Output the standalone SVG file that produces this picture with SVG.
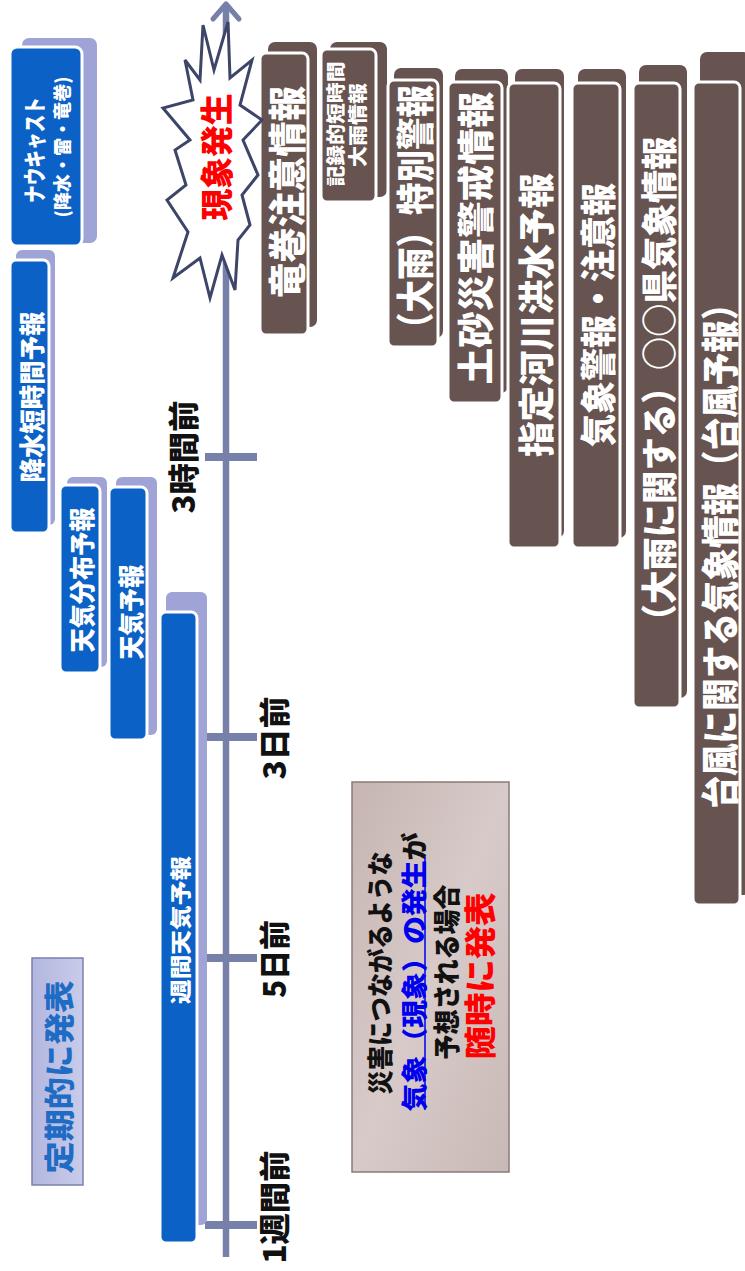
<svg xmlns="http://www.w3.org/2000/svg" width="745" height="1271" viewBox="0 0 745 1271">
<style>
text{font-family:"Noto Sans CJK JP","Noto Sans CJK SC",sans-serif;font-weight:900;text-anchor:middle;dominant-baseline:central}
.b{fill:#0b61c6;stroke:#fff;stroke-width:3}
.bs{fill:#9fa3d6}
.r{fill:#67534f;stroke:#fff;stroke-width:3}
.rs{fill:#67534f}
.w{fill:#fff}
.k{fill:#111}
.ax{stroke:#7680a8;fill:none}
</style>
<defs>
<linearGradient id="gBox" x1="0" y1="0" x2="1" y2="1">
<stop offset="0" stop-color="#c6b5b2"/>
<stop offset="0.5" stop-color="#d7cac8"/>
<stop offset="1" stop-color="#c9b9b6"/>
</linearGradient>
<linearGradient id="gLav" x1="0" y1="0" x2="1" y2="0">
<stop offset="0" stop-color="#b3b7df"/>
<stop offset="1" stop-color="#c9cbea"/>
</linearGradient>
</defs>
<rect width="745" height="1271" fill="#fff"/>

<g id="timeline">
<line class="ax" x1="226" y1="1257" x2="226" y2="8" stroke-width="6.5"/>
<polyline class="ax" points="213,19 226,4 239,19" stroke-width="5" stroke-linejoin="round" stroke-linecap="round"/>
<line class="ax" x1="205" y1="457" x2="257" y2="457" stroke-width="8"/>
<line class="ax" x1="205" y1="737" x2="257" y2="737" stroke-width="8"/>
<line class="ax" x1="205" y1="958" x2="257" y2="958" stroke-width="8"/>
<line class="ax" x1="205" y1="1225" x2="257" y2="1225" stroke-width="8"/>
</g>

<g id="labels">
<text class="k" font-size="31" textLength="113" lengthAdjust="spacingAndGlyphs" transform="translate(181,457) rotate(-90)">3時間前</text>
<text class="k" font-size="31" textLength="83" lengthAdjust="spacingAndGlyphs" transform="translate(272,738) rotate(-90)">3日前</text>
<text class="k" font-size="31" textLength="78" lengthAdjust="spacingAndGlyphs" transform="translate(272,959) rotate(-90)">5日前</text>
<text class="k" font-size="31" textLength="113" lengthAdjust="spacingAndGlyphs" transform="translate(272,1207) rotate(-90)">1週間前</text>
</g>

<g id="teiki">
<rect x="32" y="958" width="51" height="227" fill="url(#gLav)" stroke="#7a80b0" stroke-width="1.5"/>
<text fill="#1e6cc4" font-size="30" textLength="193" lengthAdjust="spacingAndGlyphs" transform="translate(57,1077) rotate(-90)">定期的に発表</text>
</g>

<g id="nowcast">
<rect class="bs" x="22" y="38" width="75" height="205" rx="7"/>
<rect class="b" x="10" y="47" width="72" height="199" rx="7"/>
<text class="w" font-size="23" textLength="106" lengthAdjust="spacingAndGlyphs" transform="translate(33,150) rotate(-90)">ナウキャスト</text>
<text class="w" font-size="18" textLength="141" lengthAdjust="spacingAndGlyphs" transform="translate(61,147) rotate(-90)">(降水・雷・竜巻)</text>
</g>

<g id="kousui">
<rect class="bs" x="16" y="250" width="39" height="275" rx="6"/>
<rect class="b" x="10" y="260" width="39" height="273" rx="6"/>
<text class="w" font-size="26" textLength="171" lengthAdjust="spacingAndGlyphs" transform="translate(30,397) rotate(-90)">降水短時間予報</text>
</g>

<g id="bunpu">
<rect class="bs" x="67" y="477" width="40" height="190" rx="6"/>
<rect class="b" x="60" y="485" width="40" height="188" rx="6"/>
<text class="w" font-size="26" textLength="145" lengthAdjust="spacingAndGlyphs" transform="translate(80,580) rotate(-90)">天気分布予報</text>
</g>

<g id="tenki">
<rect class="bs" x="116" y="477" width="41" height="258" rx="6"/>
<rect class="b" x="109" y="487" width="38" height="253" rx="6"/>
<text class="w" font-size="26" textLength="95" lengthAdjust="spacingAndGlyphs" transform="translate(129,612) rotate(-90)">天気予報</text>
</g>

<g id="shukan">
<rect class="bs" x="166" y="592" width="41" height="633" rx="6"/>
<rect class="b" x="160" y="612" width="37" height="631" rx="6"/>
<text class="w" font-size="21" textLength="148" lengthAdjust="spacingAndGlyphs" transform="translate(179,930) rotate(-90)">週間天気予報</text>
</g>

<g id="tatsumaki">
<rect class="rs" x="268" y="42" width="49" height="285" rx="7"/>
<rect class="r" x="260" y="53" width="48" height="282" rx="6"/>
<text class="w" font-size="38" textLength="212" lengthAdjust="spacingAndGlyphs" transform="translate(284,192) rotate(-90)">竜巻注意情報</text>
</g>

<g id="kiroku">
<rect class="rs" x="330" y="42" width="57" height="155" rx="7"/>
<rect class="r" x="321" y="49" width="55" height="153" rx="6"/>
<text class="w" font-size="19" textLength="125" lengthAdjust="spacingAndGlyphs" transform="translate(334,124) rotate(-90)">記録的短時間</text>
<text class="w" font-size="19" textLength="84" lengthAdjust="spacingAndGlyphs" transform="translate(356,125) rotate(-90)">大雨情報</text>
</g>

<g id="tokubetsu">
<rect class="rs" x="394" y="68" width="49" height="270" rx="7"/>
<rect class="r" x="388" y="80" width="50" height="267" rx="6"/>
<text class="w" font-size="38" textLength="260" lengthAdjust="spacingAndGlyphs" transform="translate(412,215) rotate(-90)">（大雨）特別警報</text>
</g>

<g id="dosha">
<rect class="rs" x="455" y="69" width="53" height="324" rx="7"/>
<rect class="r" x="448" y="82" width="54" height="321" rx="6"/>
<text class="w" font-size="37" textLength="293" lengthAdjust="spacingAndGlyphs" transform="translate(474,238) rotate(-90)">土砂災害警戒情報</text>
</g>

<g id="kasen">
<rect class="rs" x="515" y="69" width="49" height="469" rx="7"/>
<rect class="r" x="508" y="83" width="52" height="465" rx="6"/>
<text class="w" font-size="36" textLength="284" lengthAdjust="spacingAndGlyphs" transform="translate(534,315) rotate(-90)">指定河川洪水予報</text>
</g>

<g id="keihou">
<rect class="rs" x="578" y="69" width="48" height="469" rx="7"/>
<rect class="r" x="572" y="83" width="48" height="465" rx="6"/>
<text class="w" font-size="36" textLength="264" lengthAdjust="spacingAndGlyphs" transform="translate(596,315) rotate(-90)">気象警報・注意報</text>
</g>

<g id="kenjouhou">
<rect class="rs" x="639" y="65" width="48" height="633" rx="7"/>
<rect class="r" x="633" y="83" width="47" height="625" rx="6"/>
<text class="w" font-size="36" textLength="501" lengthAdjust="spacingAndGlyphs" transform="translate(657,387) rotate(-90)">（大雨に関する）○○県気象情報</text>
</g>

<g id="taifuu">
<rect class="rs" x="700" y="52" width="50" height="843" rx="7"/>
<rect class="r" x="693" y="82" width="47" height="823" rx="6"/>
<text class="w" font-size="38" textLength="521" lengthAdjust="spacingAndGlyphs" transform="translate(717,548) rotate(-90)">台風に関する気象情報（台風予報）</text>
</g>

<g id="genshou">
<polygon points="203,25 214,70 228,22 230,78 252,60 240,105 262,120 243,140 258,175 242,195 250,225 238,240 235,290 222,255 210,298 200,258 173,278 188,232 167,200 186,185 175,150 190,140 163,108 193,100 185,60 200,80" fill="#fff" stroke="#3d4568" stroke-width="3" stroke-linejoin="miter"/>
<text fill="#f00" font-size="33" textLength="127" lengthAdjust="spacingAndGlyphs" transform="translate(215,157) rotate(-90)">現象発生</text>
</g>

<g id="zuiji">
<rect x="352" y="782" width="157" height="390" fill="url(#gBox)" stroke="#8a7a78" stroke-width="1.5"/>
<text class="k" font-size="26" textLength="243" lengthAdjust="spacingAndGlyphs" transform="translate(378,973) rotate(-90)">災害につながるような</text>
<text font-size="26" textLength="279" lengthAdjust="spacingAndGlyphs" transform="translate(412,972) rotate(-90)"><tspan fill="#0000ee">気象（現象）の発生</tspan><tspan fill="#111">が</tspan></text>
<line x1="425" y1="857" x2="425" y2="1110" stroke="#0000ee" stroke-width="1.5"/>
<text class="k" font-size="27" textLength="175" lengthAdjust="spacingAndGlyphs" transform="translate(445,972) rotate(-90)">予想される場合</text>
<text fill="#f00" font-size="32" textLength="167" lengthAdjust="spacingAndGlyphs" transform="translate(478,976) rotate(-90)">随時に発表</text>
</g>
</svg>
